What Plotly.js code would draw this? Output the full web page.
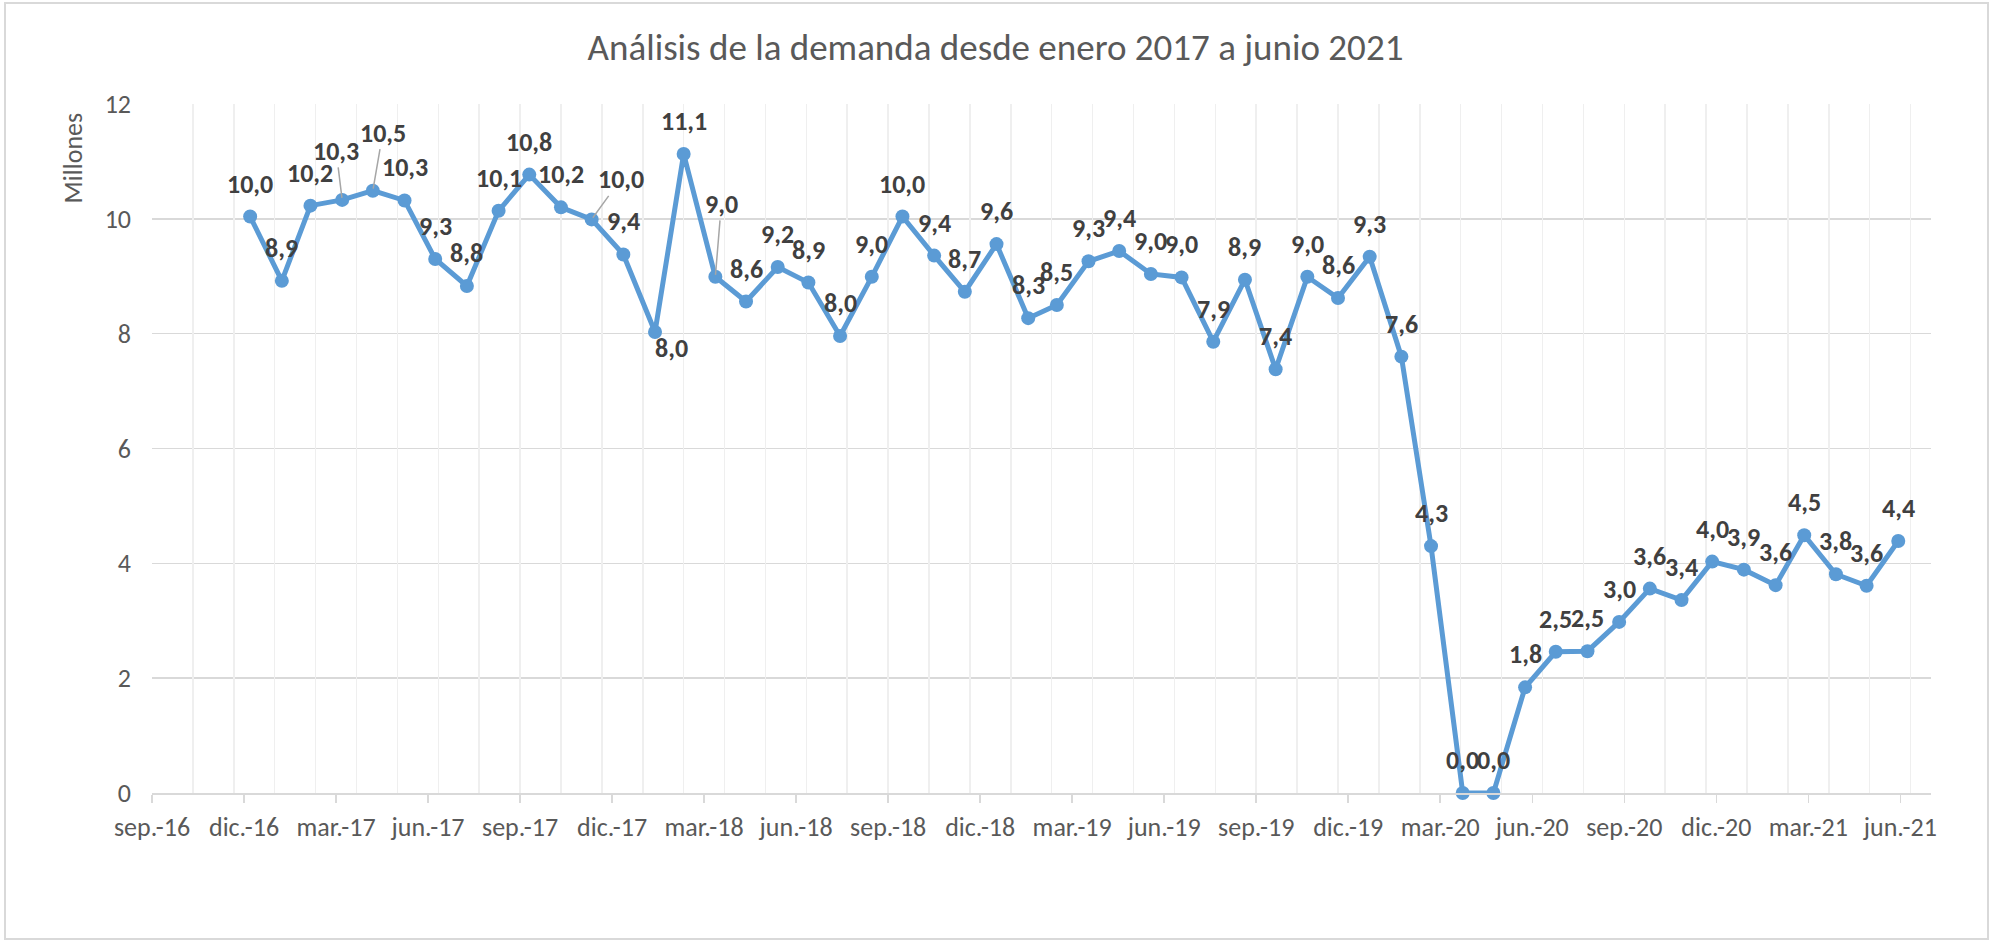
<!DOCTYPE html>
<html>
<head>
<meta charset="utf-8">
<script src="https://cdn.plot.ly/plotly-3.0.1.min.js"></script>
<style>
  html, body { margin: 0; padding: 0; background: #ffffff; }
  #chart { width: 1991px; height: 941px; }
  #frame { position: absolute; left: 4px; top: 2px; width: 1985px; height: 938px;
           box-sizing: border-box; border: 2px solid #d9d9d9; pointer-events: none; }
</style>
</head>
<body>
<div id="chart"></div>
<div id="frame"></div>
<script>
// ---- data ----
const months = [
  '2017-01','2017-02','2017-03','2017-04','2017-05','2017-06','2017-07','2017-08','2017-09','2017-10','2017-11','2017-12',
  '2018-01','2018-02','2018-03','2018-04','2018-05','2018-06','2018-07','2018-08','2018-09','2018-10','2018-11','2018-12',
  '2019-01','2019-02','2019-03','2019-04','2019-05','2019-06','2019-07','2019-08','2019-09','2019-10','2019-11','2019-12',
  '2020-01','2020-02','2020-03','2020-04','2020-05','2020-06','2020-07','2020-08','2020-09','2020-10','2020-11','2020-12',
  '2021-01','2021-02','2021-03','2021-04','2021-05','2021-06'
];
const demand = [
  10.04, 8.92, 10.23, 10.33, 10.49, 10.32, 9.30, 8.83, 10.14, 10.77, 10.20, 9.99,
  9.38, 8.03, 11.13, 8.99, 8.56, 9.16, 8.89, 7.96, 8.99, 10.04, 9.36, 8.73,
  9.56, 8.27, 8.50, 9.26, 9.44, 9.04, 8.98, 7.86, 8.94, 7.38, 8.99, 8.62,
  9.34, 7.60, 4.30, 0.00, 0.00, 1.84, 2.46, 2.47, 2.98, 3.56, 3.36, 4.03,
  3.89, 3.62, 4.49, 3.81, 3.61, 4.39
];
const xTickDates = [
  '2016-09-27','2016-12-26','2017-03-26','2017-06-24','2017-09-22','2017-12-21','2018-03-21','2018-06-19',
  '2018-09-17','2018-12-16','2019-03-16','2019-06-14','2019-09-12','2019-12-11','2020-03-10','2020-06-08',
  '2020-09-06','2020-12-05','2021-03-05','2021-06-03'
];
const xTickLabels = [
  'sep.-16','dic.-16','mar.-17','jun.-17','sep.-17','dic.-17','mar.-18','jun.-18',
  'sep.-18','dic.-18','mar.-19','jun.-19','sep.-19','dic.-19','mar.-20','jun.-20',
  'sep.-20','dic.-20','mar.-21','jun.-21'
];
const yTickValues = [0, 2, 4, 6, 8, 10, 12];

const chartTitle = 'Análisis de la demanda desde enero 2017 a junio 2021';
const yAxisTitle = 'Millones';

// ---- styling ----
const FONT = "Carlito, 'Liberation Sans Narrow', 'Liberation Sans', sans-serif";
const BLUE = '#5b9bd5';
const DAY = 86400000;
const xRange = ['2016-09-27', '2021-07-03'];

// label placement tweaks (pixel offsets, Excel had moved some labels)
const labelMoves = {
  3:  {ax: -6, ay: -49, leader: true},
  4:  {ax: 10, ay: -58, leader: true},
  11: {ax: 29, ay: -40, leader: true},
  13: {dx: 16, dy: 16, leader: false},
  15: {ax: 6, ay: -73, leader: true}
};

const fmt = v => v.toFixed(1).replace('.', ',');

const annotations = demand.map((v, i) => {
  const base = {
    x: months[i], y: v, xref: 'x', yref: 'y',
    text: fmt(v),
    font: {family: FONT, size: 26, color: '#404040', weight: 700},
    xanchor: 'center', yanchor: 'middle'
  };
  const m = labelMoves[i];
  if (m && m.leader) {
    return Object.assign(base, {
      showarrow: true, ax: m.ax, ay: m.ay, axref: 'pixel', ayref: 'pixel',
      arrowhead: 0, arrowwidth: 1.5, arrowcolor: '#a6a6a6', standoff: 2, borderpad: 0
    });
  }
  if (m) {
    return Object.assign(base, {showarrow: false, xshift: m.dx, yshift: -m.dy});
  }
  return Object.assign(base, {showarrow: false, yshift: 33});
});

annotations.push({
  xref: 'paper', yref: 'paper', x: -0.0446, y: 0.922,
  text: yAxisTitle, textangle: -90, showarrow: false,
  xanchor: 'center', yanchor: 'middle',
  font: {family: FONT, size: 26, color: '#595959'}
});

const traces = [
  {
    type: 'scatter', mode: 'lines+markers',
    x: months, y: demand,
    line: {color: BLUE, width: 5},
    marker: {color: BLUE, size: 14},
    cliponaxis: false, hoverinfo: 'x+y'
  },
  {
    // helper trace so the minor-grid axis exists
    type: 'scatter', mode: 'markers', x: months, y: demand,
    xaxis: 'x2', marker: {opacity: 0, size: 1}, hoverinfo: 'skip', showlegend: false
  }
];

const layout = {
  width: 1991, height: 941,
  margin: {l: 152, r: 60, t: 104, b: 148},
  paper_bgcolor: '#ffffff', plot_bgcolor: '#ffffff',
  font: {family: FONT, size: 26, color: '#595959'},
  showlegend: false,
  title: {
    text: chartTitle, xref: 'container', x: 0.5, xanchor: 'center',
    yref: 'container', y: 1 - 47 / 941, yanchor: 'middle',
    font: {family: FONT, size: 37, color: '#595959'}
  },
  xaxis: {
    type: 'date', range: xRange,
    tickmode: 'array', tickvals: xTickDates, ticktext: xTickLabels,
    ticks: 'outside', ticklen: 8, tickwidth: 1.5, tickcolor: '#d9d9d9',
    ticklabelstandoff: 2,
    showgrid: false, showline: true, linecolor: '#d9d9d9', linewidth: 1.5,
    zeroline: false, tickfont: {family: FONT, size: 26, color: '#595959'},
    fixedrange: true
  },
  xaxis2: {
    type: 'date', range: xRange, overlaying: 'x', anchor: 'y', side: 'bottom',
    tickmode: 'linear', tick0: '2016-09-27', dtick: 40 * DAY,
    showgrid: true, gridcolor: '#efefef', gridwidth: 1.5,
    showticklabels: false, ticks: '', showline: false, zeroline: false, fixedrange: true
  },
  yaxis: {
    range: [0, 12], tickmode: 'array', tickvals: yTickValues,
    ticktext: yTickValues.map(String),
    showgrid: true, gridcolor: '#d9d9d9', gridwidth: 1.5,
    zeroline: false, showline: false, ticks: '', ticklabelstandoff: 20,
    tickfont: {family: FONT, size: 26, color: '#595959'},
    fixedrange: true
  },
  annotations: annotations
};

Plotly.newPlot('chart', traces, layout, {displayModeBar: false, staticPlot: true});
</script>
</body>
</html>
